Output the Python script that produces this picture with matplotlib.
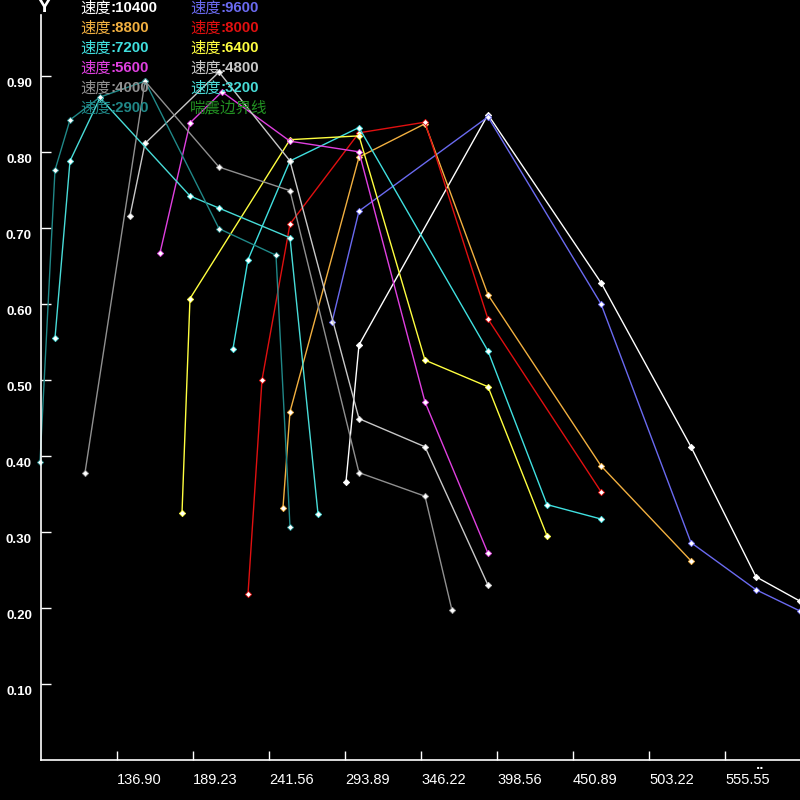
import matplotlib
matplotlib.use("Agg")
import matplotlib.pyplot as plt
from matplotlib.transforms import ScaledTranslation

# speed lines: flow (x) and efficiency (y)
speeds = ["10400", "9600", "8800", "8000", "7200", "6400",
          "5600", "4800", "4000", "3200", "2900"]
colors = ["#ffffff", "#6a6af0", "#f2b040", "#e01010", "#40e0e0", "#ffff40",
          "#e040e0", "#c8c8c8", "#909090", "#48dcd8", "#208888"]

x_10400 = [294.58, 303.53, 392.36, 470.16, 532.13, 576.88, 607.18]
y_10400 = [0.366, 0.546, 0.849, 0.628, 0.412, 0.241, 0.209]
x_9600 = [284.94, 303.53, 392.36, 470.16, 532.13, 576.88, 607.18]
y_9600 = [0.576, 0.722, 0.846, 0.600, 0.286, 0.224, 0.196]
x_8800 = [251.20, 256.02, 303.53, 348.98, 392.36, 470.16, 532.13]
y_8800 = [0.332, 0.458, 0.793, 0.837, 0.612, 0.387, 0.262]
x_8000 = [227.10, 236.74, 256.02, 303.53, 348.98, 392.36, 470.16]
y_8000 = [0.218, 0.500, 0.705, 0.825, 0.839, 0.580, 0.353]
x_7200 = [216.77, 227.10, 256.02, 303.53, 392.36, 432.98, 470.16]
y_7200 = [0.541, 0.658, 0.788, 0.832, 0.538, 0.336, 0.317]
x_6400 = [181.66, 187.16, 256.02, 303.53, 348.98, 392.36, 432.98]
y_6400 = [0.325, 0.607, 0.816, 0.821, 0.526, 0.491, 0.295]
x_5600 = [166.51, 187.16, 209.20, 256.02, 303.53, 348.98, 392.36]
y_5600 = [0.667, 0.838, 0.879, 0.814, 0.800, 0.471, 0.272]
x_4800 = [145.85, 156.18, 207.13, 256.02, 303.53, 348.98, 392.36]
y_4800 = [0.716, 0.811, 0.905, 0.788, 0.449, 0.412, 0.230]
x_4000 = [114.87, 156.18, 207.13, 256.02, 303.53, 348.98, 367.57]
y_4000 = [0.378, 0.893, 0.780, 0.749, 0.378, 0.347, 0.197]
x_3200 = [94.21, 104.54, 125.19, 187.16, 207.13, 256.02, 275.30]
y_3200 = [0.555, 0.788, 0.871, 0.742, 0.726, 0.687, 0.324]
x_2900 = [83.88, 94.21, 104.54, 125.19, 156.18, 207.13, 246.38, 256.02]
y_2900 = [0.392, 0.776, 0.842, 0.872, 0.893, 0.699, 0.664, 0.307]

xs = [x_10400, x_9600, x_8800, x_8000, x_7200, x_6400,
      x_5600, x_4800, x_4000, x_3200, x_2900]
ys = [y_10400, y_9600, y_8800, y_8000, y_7200, y_6400,
      y_5600, y_4800, y_4000, y_3200, y_2900]

x_ticks = [136.90, 189.23, 241.56, 293.89, 346.22, 398.56, 450.89, 503.22, 555.55]
x_ticklabels = ["136.90", "189.23", "241.56", "293.89", "346.22",
                "398.56", "450.89", "503.22", "555.55"]
y_ticks = [0.1, 0.2, 0.3, 0.4, 0.5, 0.6, 0.7, 0.8, 0.9]
y_ticklabels = ["0.10", "0.20", "0.30", "0.40", "0.50", "0.60", "0.70", "0.80", "0.90"]

surge_label = "喘震边界线"
surge_color = "#229022"

fig = plt.figure(figsize=(8, 8), dpi=100, facecolor="black")
ax = fig.add_axes([41 / 800, 40 / 800, 759 / 800, 745 / 800])
ax.set_facecolor("black")

for x, y, c in zip(xs, ys, colors):
    ax.plot(x, y, color=c, lw=1, clip_on=False)
    ax.plot(x, y, ls="none", marker="D", ms=3.2, mfc="white", mec=c,
            mew=0.6, clip_on=False)

ax.set_xlim(84.57, 607.2)
ax.set_ylim(0, 0.98)
for s in ["top", "right"]:
    ax.spines[s].set_visible(False)
for s in ["left", "bottom"]:
    ax.spines[s].set_color("white")
    ax.spines[s].set_linewidth(1.2)

ax.set_xticks(x_ticks)
ax.set_xticklabels(x_ticklabels, fontfamily="Liberation Sans", fontsize=10.5,
                   color="white", ha="left")
ax.set_yticks(y_ticks)
ax.set_yticklabels(y_ticklabels, fontfamily="Liberation Sans", fontsize=9.5,
                   fontweight="bold", color="white")
ax.tick_params(axis="x", direction="in", length=6.5, width=1, colors="white", pad=9)
ax.tick_params(axis="y", direction="in", length=7.2, width=1, colors="white", pad=6.5)
shift = ScaledTranslation(0, -0.07, fig.dpi_scale_trans)
for lab in ax.get_yticklabels():
    lab.set_transform(lab.get_transform() + shift)

fig.text(44 / 800, 1 - 8 / 800, "Y", color="white", fontsize=11,
         fontfamily="DejaVu Sans", fontweight="bold", ha="center", va="center")
fig.text(760 / 800, 1 - 766 / 800, "..", color="white", fontsize=8,
         fontweight="bold", ha="center", va="center")

# legend as two columns of text
for i, (sp, c) in enumerate(zip(speeds, colors)):
    col = i % 2
    row = i // 2
    x0 = 80 if col == 0 else 190
    yy = 1 - (8 + 20 * row) / 800
    fig.text(x0 / 800, yy, "速度", color=c, fontsize=11,
             fontfamily="Noto Sans CJK SC", ha="left", va="center")
    fig.text((x0 + 30) / 800, yy, ":" + sp, color=c, fontsize=10.8,
             fontfamily="Liberation Sans", fontweight="bold",
             ha="left", va="center")
fig.text(190 / 800, 1 - 108 / 800, surge_label, color=surge_color, fontsize=11.2,
         fontfamily="Noto Sans CJK SC", ha="left", va="center")

fig.savefig("out.png", dpi=100, facecolor="black")
